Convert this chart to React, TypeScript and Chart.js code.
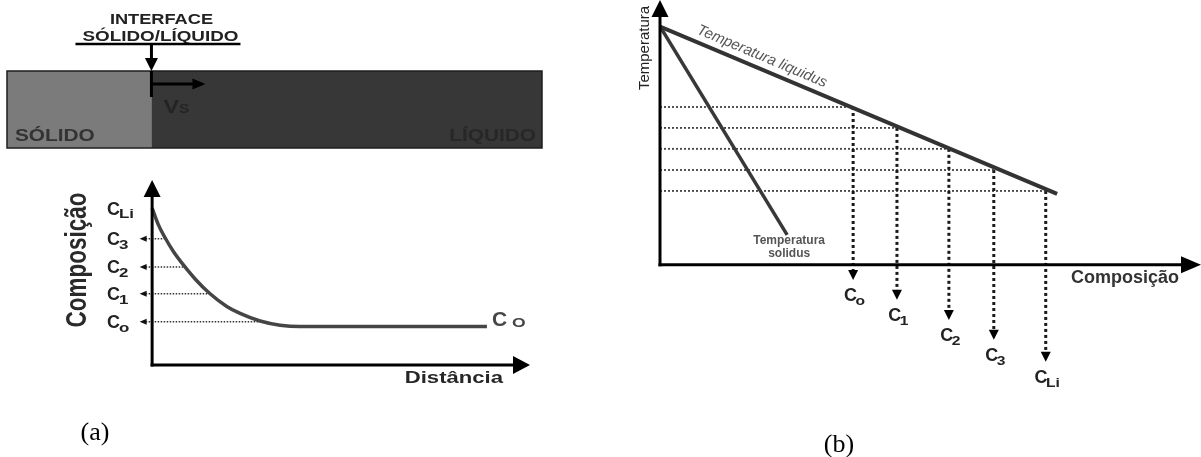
import React, { useEffect, useRef } from "react";
import { Chart, registerables } from "chart.js";

Chart.register(...registerables);

const W = 1201;
const H = 457;
const SANS = '"Liberation Sans", Arial, Helvetica, sans-serif';
const SERIF = '"Liberation Serif", "Times New Roman", serif';

// ---------- (a) top: solid / liquid bar (relative lengths) ----------
const phaseNames = ["SÓLIDO", "LÍQUIDO"];
const phaseLengths = [27, 73];
const phaseColors = ["#7b7b7b", "#373737"];

// ---------- (a) bottom: composition profile vs distance ----------
const profileDistance = [0, 1.67, 3.44, 5.63, 8.28, 11.38, 15.34, 19.76, 23.28, 28.57, 33.86, 39.15, 88.6];
const profileComposition = [5.6, 5.0, 4.54, 4.05, 3.57, 3.07, 2.54, 2.09, 1.84, 1.57, 1.42, 1.37, 1.37];
const levelSubs = ["o", "1", "2", "3", "Li"];
const levelCompA = [1.54, 2.54, 3.5, 4.5, 5.6];
const levelDottedEndA = [28.6, 14.9, 8.3, 3.4];

// ---------- (b) phase diagram ----------
const liquidusComp = [0, 73.4];
const liquidusTemp = [90, 26.8];
const solidusComp = [0, 23.5];
const solidusTemp = [90, 11.3];
const levelCompB = [35.7, 43.8, 53.4, 61.7, 71.3];
const levelTempB = [59.6, 51.7, 43.8, 35.8, 27.9];
const levelArrowTipB = [-5.7, -13.2, -20.8, -28.3, -36.6];

type Dir = "up" | "down" | "left" | "right";

function arrowHead(ctx: CanvasRenderingContext2D, x: number, y: number, dir: Dir, len: number, wid: number, color = "#000") {
  ctx.save();
  ctx.fillStyle = color;
  ctx.beginPath();
  ctx.moveTo(x, y);
  if (dir === "up") { ctx.lineTo(x - wid / 2, y + len); ctx.lineTo(x + wid / 2, y + len); }
  else if (dir === "down") { ctx.lineTo(x - wid / 2, y - len); ctx.lineTo(x + wid / 2, y - len); }
  else if (dir === "right") { ctx.lineTo(x - len, y - wid / 2); ctx.lineTo(x - len, y + wid / 2); }
  else { ctx.lineTo(x + len, y - wid / 2); ctx.lineTo(x + len, y + wid / 2); }
  ctx.closePath();
  ctx.fill();
  ctx.restore();
}

function seg(ctx: CanvasRenderingContext2D, x1: number, y1: number, x2: number, y2: number, w: number, color = "#000") {
  ctx.save();
  ctx.strokeStyle = color;
  ctx.lineWidth = w;
  ctx.beginPath();
  ctx.moveTo(x1, y1);
  ctx.lineTo(x2, y2);
  ctx.stroke();
  ctx.restore();
}

function text(ctx: CanvasRenderingContext2D, s: string, x: number, y: number, font: string, color: string,
  align: CanvasTextAlign = "left", sx = 1, rot = 0) {
  ctx.save();
  ctx.translate(x, y);
  ctx.scale(sx, 1);
  if (rot) ctx.rotate(rot);
  ctx.font = font;
  ctx.fillStyle = color;
  ctx.textAlign = align;
  ctx.textBaseline = "middle";
  ctx.fillText(s, 0, 0);
  ctx.restore();
}

// "C" with a subscript; main and subscript can be widened separately
function subLabel(ctx: CanvasRenderingContext2D, x: number, yMid: number, main: string, sub: string,
  mainSize: number, subSize: number, weight: string, color: string, align: "left" | "center",
  mainSx = 1, subSx = 1, subDrop = 0.3, gap = -1) {
  ctx.save();
  ctx.fillStyle = color;
  ctx.textBaseline = "alphabetic";
  ctx.textAlign = "left";
  const mf = `${weight} ${mainSize}px ${SANS}`;
  const sf = `${weight} ${subSize}px ${SANS}`;
  ctx.font = mf;
  const wm = ctx.measureText(main).width * mainSx;
  ctx.font = sf;
  const ws = ctx.measureText(sub).width * subSx;
  const total = wm + ws + gap;
  const x0 = align === "center" ? x - total / 2 : x;
  const base = yMid + mainSize * 0.36;
  ctx.save();
  ctx.translate(x0, base);
  ctx.scale(mainSx, 1);
  ctx.font = mf;
  ctx.fillText(main, 0, 0);
  ctx.restore();
  ctx.save();
  ctx.translate(x0 + wm + gap, base + subSize * subDrop);
  ctx.scale(subSx, 1);
  ctx.font = sf;
  ctx.fillText(sub, 0, 0);
  ctx.restore();
  ctx.restore();
}

const baseOptions = {
  responsive: false,
  animation: false as const,
  devicePixelRatio: 1,
  events: [] as any[],
};

function makeBar(canvas: HTMLCanvasElement) {
  const deco = {
    id: "barDeco",
    afterDatasetsDraw(chart: any) {
      const { ctx, chartArea: a, scales } = chart;
      const xi = scales.x.getPixelForValue(phaseLengths[0]);
      ctx.save();
      ctx.strokeStyle = "#1e1e1e";
      ctx.lineWidth = 1.5;
      ctx.strokeRect(a.left, a.top, a.right - a.left, a.bottom - a.top);
      ctx.restore();
      // interface marker and growth direction
      seg(ctx, xi, a.top, xi, a.top + 26, 3);
      seg(ctx, xi, a.top + 13, xi + 42, a.top + 13, 3);
      arrowHead(ctx, xi + 54, a.top + 13, "right", 13, 11);
      // Vs
      subLabel(ctx, xi + 12, a.top + 36, "V", "S", 18, 12, "bold", "#242424", "left", 1.3, 1.3, 0, 0);
      // phase names
      text(ctx, phaseNames[0], a.left + 8, a.bottom - 11, `bold 16px ${SANS}`, "#333", "left", 1.3);
      text(ctx, phaseNames[1], a.right - 6, a.bottom - 11, `bold 16px ${SANS}`, "#272727", "right", 1.3);
      // interface label above
      text(ctx, "INTERFACE", xi + 10, a.top - 51, `bold 14px ${SANS}`, "#222", "center", 1.3);
      text(ctx, "SÓLIDO/LÍQUIDO", xi + 9, a.top - 34, `bold 14.5px ${SANS}`, "#222", "center", 1.3);
      seg(ctx, xi - 76, a.top - 27, xi + 89, a.top - 27, 2.5);
      seg(ctx, xi, a.top - 27, xi, a.top - 12, 3);
      arrowHead(ctx, xi, a.top, "down", 13, 13);
    },
  };
  return new Chart(canvas, {
    type: "bar",
    data: {
      labels: ["interface"],
      datasets: phaseNames.map((n, i) => ({
        label: n,
        data: [phaseLengths[i]],
        backgroundColor: phaseColors[i],
        borderWidth: 0,
        barPercentage: 1,
        categoryPercentage: 1,
      })),
    },
    options: {
      ...baseOptions,
      indexAxis: "y",
      layout: { padding: { left: 7, top: 71, right: W - 542, bottom: H - 148 } },
      scales: {
        x: { type: "linear", stacked: true, min: 0, max: 100, display: false },
        y: { stacked: true, display: false },
      },
      plugins: { legend: { display: false }, tooltip: { enabled: false } },
    } as any,
    plugins: [deco],
  });
}

function makeProfile(canvas: HTMLCanvasElement) {
  const deco = {
    id: "profileDeco",
    afterDatasetsDraw(chart: any) {
      const { ctx, chartArea: a, scales } = chart;
      const x0 = scales.x.getPixelForValue(0);
      const y0 = scales.y.getPixelForValue(0);
      // axes
      seg(ctx, x0, y0 + 1.5, x0, a.top + 14, 3);
      arrowHead(ctx, x0, a.top, "up", 17, 17);
      seg(ctx, x0 - 1.5, y0, a.right - 14, y0, 3);
      arrowHead(ctx, a.right, y0, "right", 17, 18);
      // level labels
      levelCompA.forEach((c, i) => {
        const yp = scales.y.getPixelForValue(c);
        subLabel(ctx, 107, yp, "C", levelSubs[i], 18, 13, "bold", "#222", "left", 1.0, 1.3, 0.3, -1);
        if (i < levelDottedEndA.length) {
          arrowHead(ctx, scales.x.getPixelForValue(-3.3), yp, "left", 7, 6, "#111");
        }
      });
      // axis titles
      ctx.save();
      ctx.translate(78, 260);
      ctx.scale(1.3, 1);
      ctx.rotate(-Math.PI / 2);
      ctx.font = `bold 22.5px ${SANS}`;
      ctx.fillStyle = "#2a2a2a";
      ctx.textAlign = "center";
      ctx.textBaseline = "middle";
      ctx.fillText("Composição", 0, 0);
      ctx.restore();
      text(ctx, "Distância", 503, y0 + 13, `bold 17px ${SANS}`, "#262626", "right", 1.3);
      // C0 far-field label
      const ex = scales.x.getPixelForValue(profileDistance[profileDistance.length - 1]);
      const ey = scales.y.getPixelForValue(profileComposition[profileComposition.length - 1]);
      subLabel(ctx, ex + 5, ey - 8, "C", "O", 20, 13.5, "bold", "#464646", "left", 1.05, 1.3, 0.12, 5);
      text(ctx, "(a)", 95, 433, `26px ${SERIF}`, "#000", "center");
    },
  };
  const datasets: any[] = [
    {
      label: "perfil",
      data: profileDistance.map((d, i) => ({ x: d, y: profileComposition[i] })),
      showLine: true,
      borderColor: "#454545",
      borderWidth: 3.5,
      pointRadius: 0,
      cubicInterpolationMode: "monotone",
    },
  ];
  levelDottedEndA.forEach((end, i) => {
    datasets.push({
      label: "C" + levelSubs[i],
      data: [{ x: -2.5, y: levelCompA[i] }, { x: end, y: levelCompA[i] }],
      showLine: true,
      borderColor: "#333",
      borderWidth: 1.5,
      borderDash: [1.5, 1.5],
      pointRadius: 0,
    });
  });
  return new Chart(canvas, {
    type: "scatter",
    data: { datasets },
    options: {
      ...baseOptions,
      layout: { padding: { left: 137, top: 180, right: W - 530, bottom: H - 365 } },
      scales: {
        x: { type: "linear", min: -4, max: 100, display: false },
        y: { type: "linear", min: 0, max: 6.6, display: false },
      },
      plugins: { legend: { display: false }, tooltip: { enabled: false } },
    } as any,
    plugins: [deco],
  });
}

function makeDiagram(canvas: HTMLCanvasElement) {
  const deco = {
    id: "diagramDeco",
    afterDatasetsDraw(chart: any) {
      const { ctx, chartArea: a, scales } = chart;
      const x0 = scales.x.getPixelForValue(0);
      const y0 = scales.y.getPixelForValue(0);
      seg(ctx, x0, y0 + 1.5, x0, a.top + 14, 3);
      arrowHead(ctx, x0, a.top, "up", 17, 17);
      seg(ctx, x0 - 1.5, y0, a.right - 16, y0, 3);
      arrowHead(ctx, a.right, y0, "right", 20, 17);
      levelCompB.forEach((c, i) => {
        const xp = scales.x.getPixelForValue(c);
        const tp = scales.y.getPixelForValue(levelArrowTipB[i]);
        arrowHead(ctx, xp, tp, "down", 10, 10);
        subLabel(ctx, xp + 1.5, tp + 15, "C", levelSubs[i], 18, 12.5, "bold", "#222", "center", 1.0, 1.25, 0.3, -1.5);
      });
      // axis titles
      text(ctx, "Temperatura", 645, 48, `15px ${SANS}`, "#222", "center", 1, -Math.PI / 2);
      text(ctx, "Composição", 1071, y0 + 13, `bold 18px ${SANS}`, "#333", "left");
      // liquidus label along the line
      const p0x = scales.x.getPixelForValue(liquidusComp[0]);
      const p0y = scales.y.getPixelForValue(liquidusTemp[0]);
      const p1x = scales.x.getPixelForValue(liquidusComp[1]);
      const p1y = scales.y.getPixelForValue(liquidusTemp[1]);
      const ang = Math.atan2(p1y - p0y, p1x - p0x);
      const t = 0.245;
      ctx.save();
      ctx.translate(p0x + t * (p1x - p0x), p0y + t * (p1y - p0y));
      ctx.rotate(ang);
      ctx.font = `italic 15px ${SANS}`;
      ctx.fillStyle = "#555";
      ctx.textAlign = "center";
      ctx.textBaseline = "middle";
      ctx.fillText("Temperatura liquidus", 0, -12);
      ctx.restore();
      // solidus label
      const sx = scales.x.getPixelForValue(solidusComp[1]);
      const sy = scales.y.getPixelForValue(solidusTemp[1]);
      text(ctx, "Temperatura", sx + 2, sy + 6, `bold 12px ${SANS}`, "#555", "center");
      text(ctx, "solidus", sx + 2, sy + 19, `bold 12px ${SANS}`, "#555", "center");
      text(ctx, "(b)", 839, 445, `26px ${SERIF}`, "#000", "center");
    },
  };
  const datasets: any[] = [
    {
      label: "liquidus",
      data: liquidusComp.map((c, i) => ({ x: c, y: liquidusTemp[i] })),
      showLine: true,
      borderColor: "#333",
      borderWidth: 4,
      pointRadius: 0,
    },
    {
      label: "solidus",
      data: solidusComp.map((c, i) => ({ x: c, y: solidusTemp[i] })),
      showLine: true,
      borderColor: "#383838",
      borderWidth: 3.5,
      pointRadius: 0,
    },
  ];
  levelCompB.forEach((c, i) => {
    datasets.push({
      label: "h" + i,
      data: [{ x: 0, y: levelTempB[i] }, { x: c, y: levelTempB[i] }],
      showLine: true,
      borderColor: "#444",
      borderWidth: 1.8,
      borderDash: [2, 2],
      pointRadius: 0,
    });
    datasets.push({
      label: "v" + i,
      data: [{ x: c, y: levelTempB[i] }, { x: c, y: levelArrowTipB[i] + 2 }],
      showLine: true,
      borderColor: "#1a1a1a",
      borderWidth: 3,
      borderDash: [3, 3],
      pointRadius: 0,
    });
  });
  return new Chart(canvas, {
    type: "scatter",
    data: { datasets },
    options: {
      ...baseOptions,
      layout: { padding: { left: 660, top: 0, right: 0, bottom: 73 } },
      scales: {
        x: { type: "linear", min: 0, max: 100, display: false },
        y: { type: "linear", min: -45, max: 100, display: false },
      },
      plugins: { legend: { display: false }, tooltip: { enabled: false } },
    } as any,
    plugins: [deco],
  });
}

export default function App() {
  const r1 = useRef<HTMLCanvasElement>(null);
  const r2 = useRef<HTMLCanvasElement>(null);
  const r3 = useRef<HTMLCanvasElement>(null);
  useEffect(() => {
    document.body.style.margin = "0";
    const charts = [makeBar(r1.current!), makeProfile(r2.current!), makeDiagram(r3.current!)];
    return () => charts.forEach((c) => c.destroy());
  }, []);
  const cs: React.CSSProperties = { position: "absolute", left: 0, top: 0, width: W, height: H };
  return (
    <div style={{ position: "relative", width: W, height: H, background: "#fff", overflow: "hidden" }}>
      <canvas ref={r1} width={W} height={H} style={cs} />
      <canvas ref={r2} width={W} height={H} style={cs} />
      <canvas ref={r3} width={W} height={H} style={cs} />
    </div>
  );
}
